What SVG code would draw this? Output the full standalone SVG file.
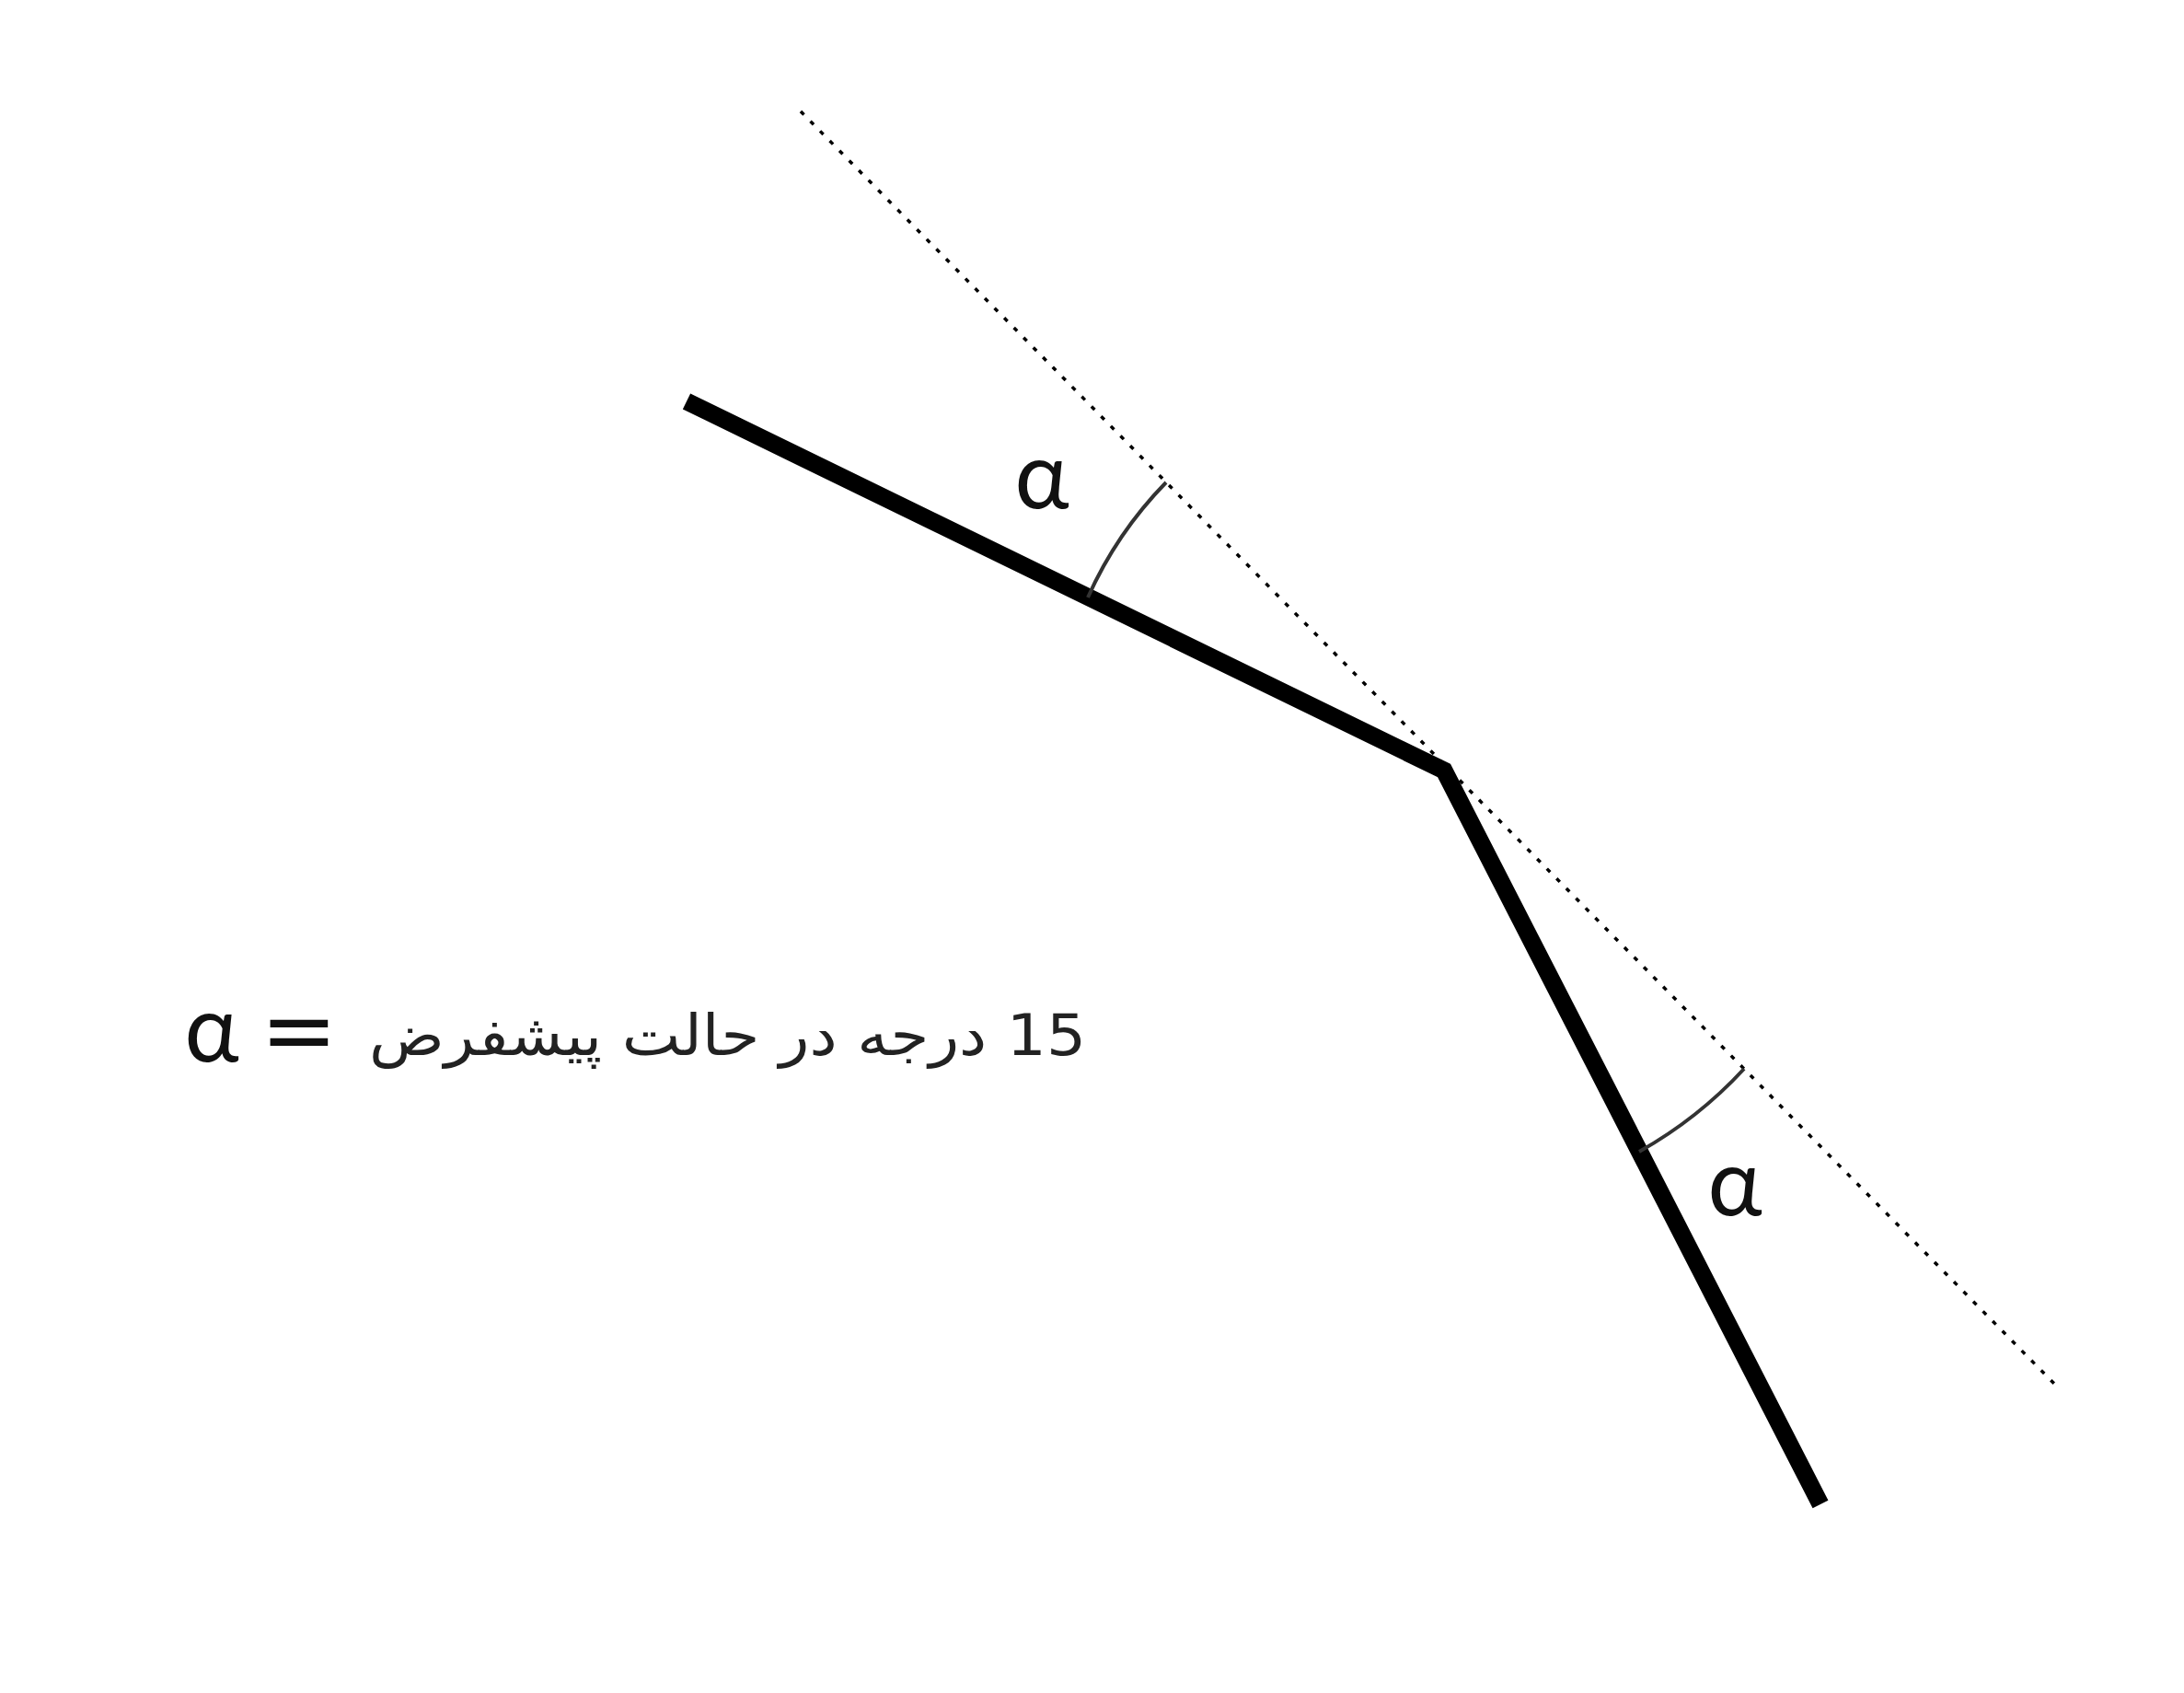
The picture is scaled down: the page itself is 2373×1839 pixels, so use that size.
<svg xmlns="http://www.w3.org/2000/svg" width="2373" height="1839" viewBox="0 0 2373 1839">
<style>
.dot{stroke:#000;stroke-width:3.5;stroke-dasharray:5 10;fill:none}
.thick{stroke:#000;stroke-width:19;fill:none;stroke-linejoin:miter}
.arc{stroke:#333;stroke-width:4;fill:none}
.alpha{font-family:Lato,"DejaVu Sans",sans-serif;font-size:100px;fill:#111;text-anchor:middle}
.eq{font-family:"DejaVu Sans",sans-serif;font-size:100px;fill:#111;text-anchor:middle}
.fa{font-family:"DejaVu Sans",sans-serif;font-size:62px;fill:#222}
</style>
<rect width="2373" height="1839" fill="#fff"/>
<g id="connectors">
<line id="axis" class="dot" x1="870" y1="121" x2="2235" y2="1506"/>
<polyline id="bent" class="thick" points="746,436 1569,837 1978,1634"/>
<path id="arc1" class="arc" d="M1182,649 A430,430 0 0 1 1267,524"/>
<path id="arc2" class="arc" d="M1781,1251 A465,465 0 0 0 1895,1161"/>
</g>
<g id="label-alpha-1"><text class="alpha" x="1132" y="552">α</text></g>
<g id="label-alpha-2"><text class="alpha" x="1885" y="1320">α</text></g>
<g id="legend">
<text class="alpha" x="230" y="1153">α</text>
<text class="eq" x="325" y="1153">=</text>
<text class="fa" x="1180" y="1146" direction="rtl" text-anchor="start" textLength="779" lengthAdjust="spacingAndGlyphs">15 درجه در حالت پیشفرض</text>
</g>
</svg>
